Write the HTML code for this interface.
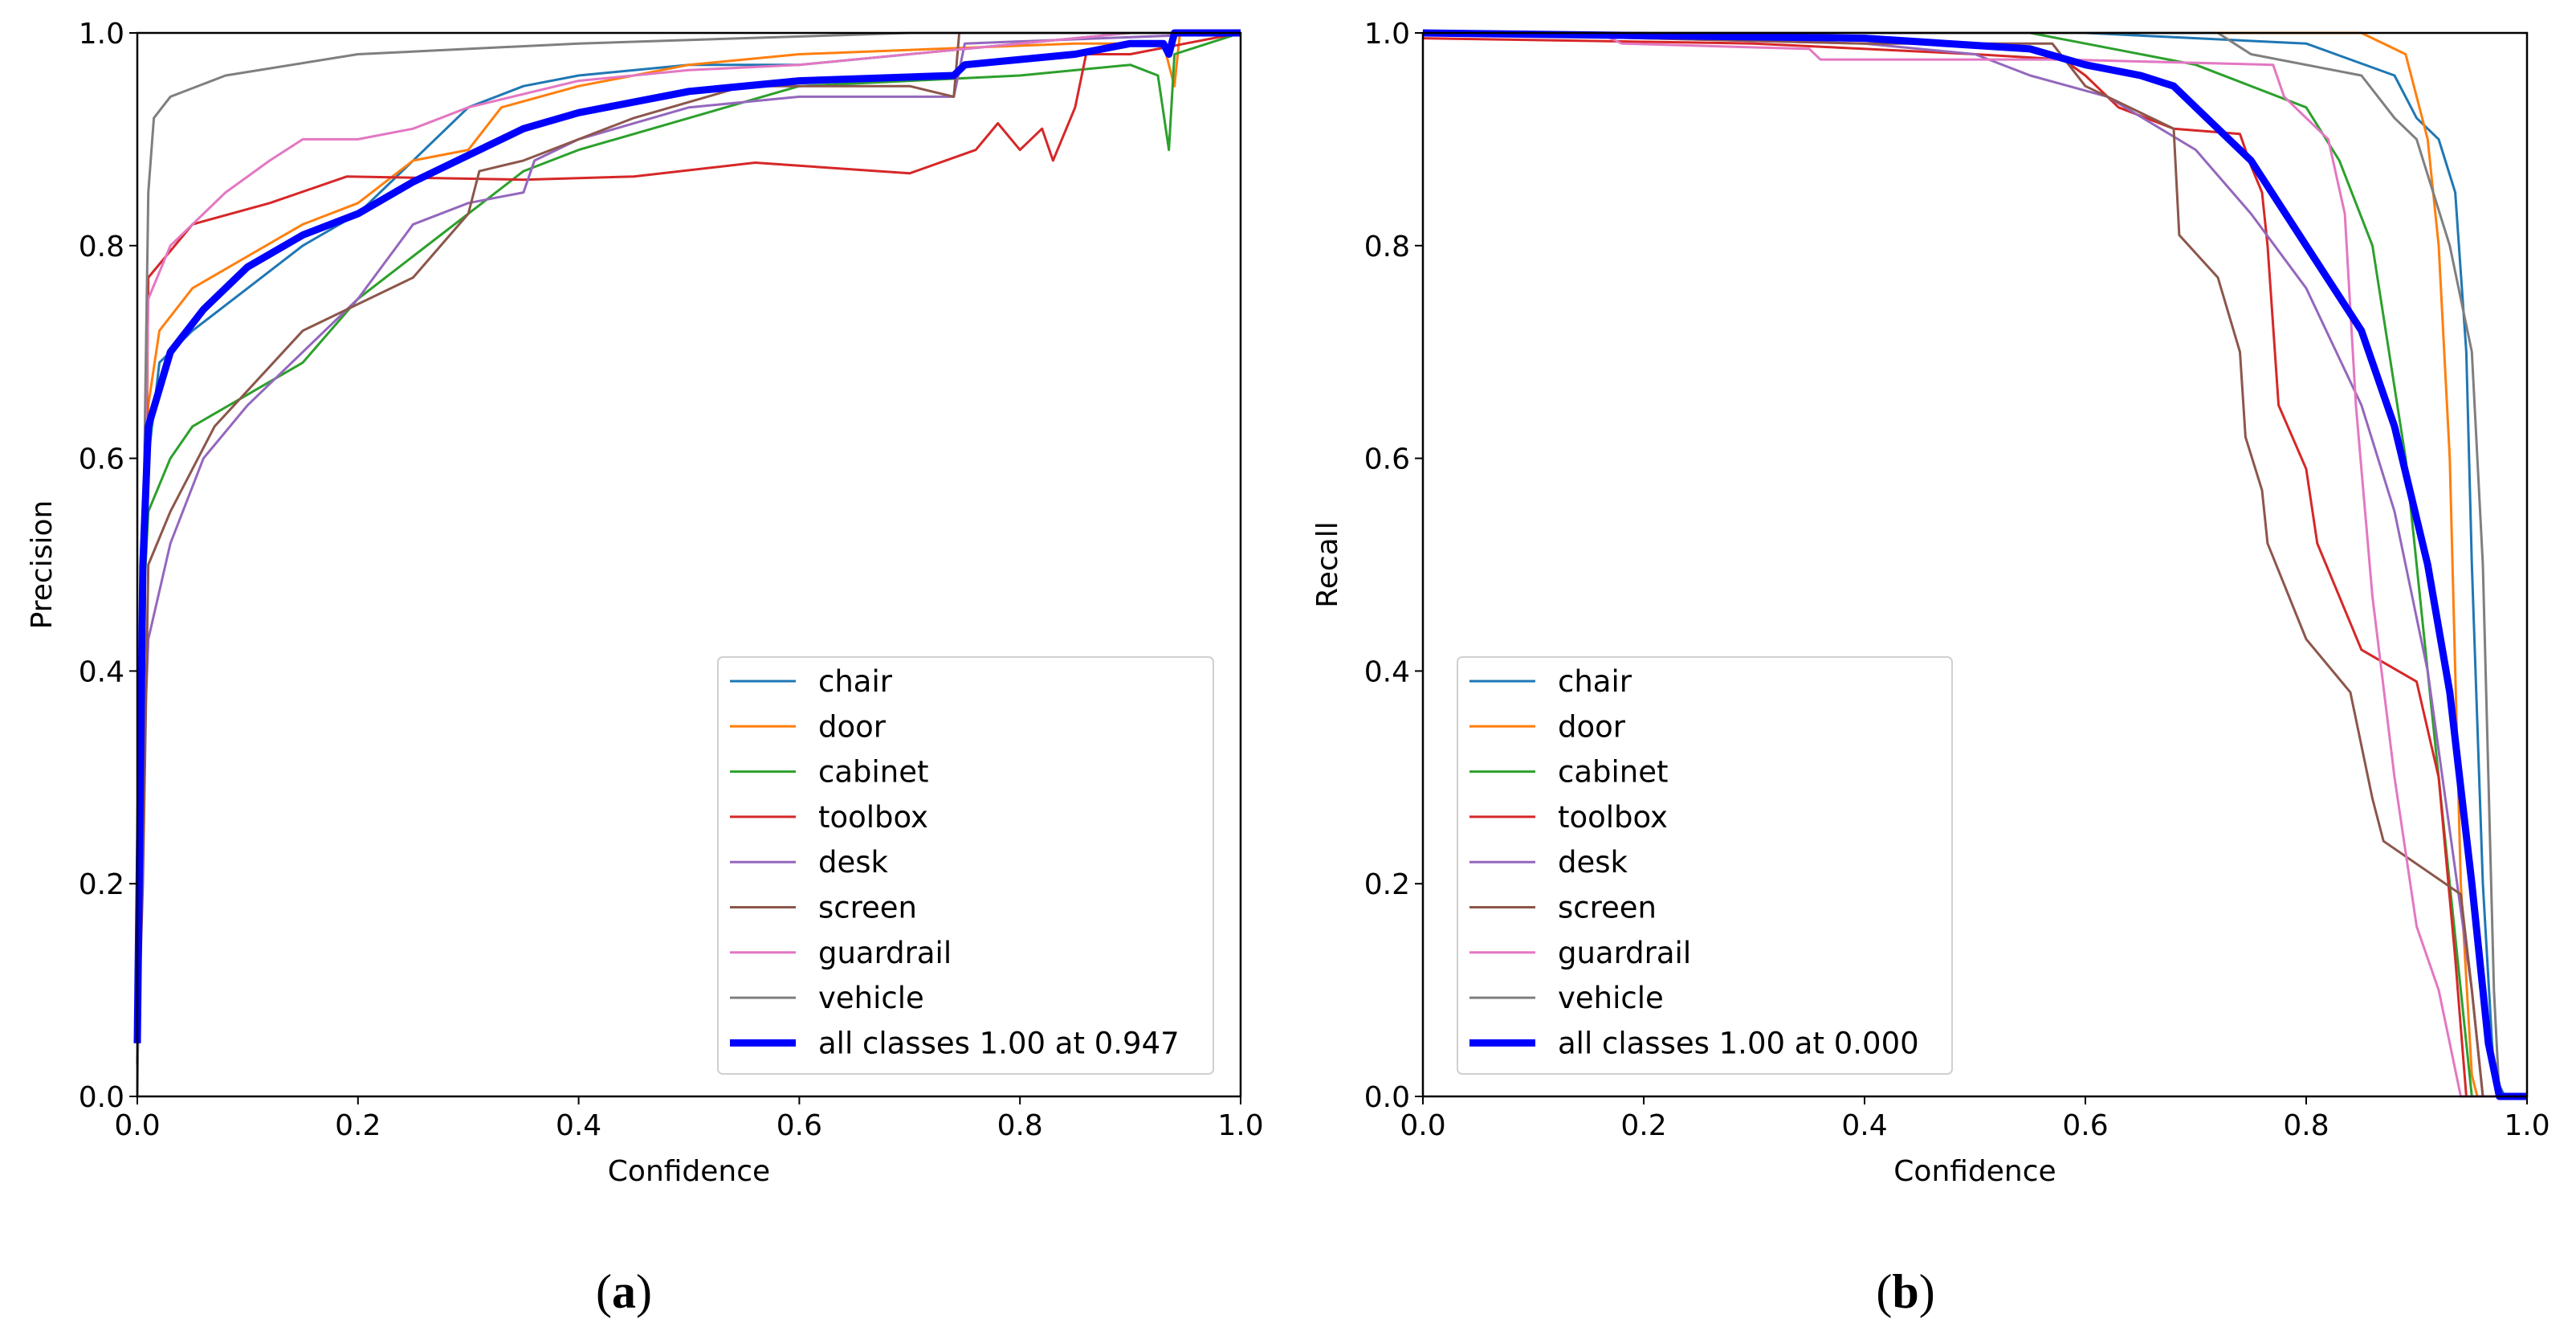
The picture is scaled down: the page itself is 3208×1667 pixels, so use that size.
<!DOCTYPE html>
<html><head><meta charset="utf-8">
<style>
html,body{margin:0;padding:0;background:#fff;}
svg{display:block;}
text{font-family:"DejaVu Sans","Liberation Sans",sans-serif;fill:#000;}
</style></head>
<body>
<svg id="fig" width="3208" height="1667" viewBox="0 0 3208 1667" xmlns="http://www.w3.org/2000/svg"></svg>
<script>
const classNames = ["chair","door","cabinet","toolbox","desk","screen","guardrail","vehicle"];
const classColors = ["#1f77b4","#ff7f0e","#2ca02c","#d62728","#9467bd","#8c564b","#e377c2","#7f7f7f"];
const ticks = [0,0.2,0.4,0.6,0.8,1.0];
const tickLabels = ["0.0","0.2","0.4","0.6","0.8","1.0"];

// Precision-confidence (a)
const pChairX = [0,0.005,0.01,0.02,0.05,0.1,0.15,0.2,0.25,0.3,0.35,0.4,0.5,0.6,0.7,0.8,0.9,1];
const pChairY = [0.1,0.45,0.6,0.69,0.72,0.76,0.8,0.83,0.88,0.93,0.95,0.96,0.97,0.97,0.98,0.99,1,1];
const pDoorX = [0,0.005,0.01,0.02,0.05,0.1,0.15,0.2,0.25,0.3,0.33,0.4,0.5,0.6,0.85,0.93,0.94,0.945,1];
const pDoorY = [0.2,0.5,0.65,0.72,0.76,0.79,0.82,0.84,0.88,0.89,0.93,0.95,0.97,0.98,0.99,0.99,0.95,1,1];
const pCabinetX = [0,0.005,0.01,0.03,0.05,0.1,0.15,0.2,0.25,0.3,0.35,0.4,0.5,0.6,0.8,0.9,0.925,0.935,0.94,1];
const pCabinetY = [0.1,0.45,0.55,0.6,0.63,0.66,0.69,0.75,0.79,0.83,0.87,0.89,0.92,0.95,0.96,0.97,0.96,0.89,0.98,1];
const pToolboxX = [0,0.005,0.01,0.05,0.12,0.19,0.35,0.45,0.56,0.7,0.76,0.78,0.8,0.82,0.83,0.85,0.86,0.9,0.95,1];
const pToolboxY = [0.1,0.3,0.77,0.82,0.84,0.865,0.862,0.865,0.878,0.868,0.89,0.915,0.89,0.91,0.88,0.93,0.98,0.98,0.99,1];
const pDeskX = [0,0.005,0.01,0.03,0.06,0.1,0.15,0.2,0.25,0.3,0.35,0.36,0.4,0.5,0.6,0.7,0.74,0.75,1];
const pDeskY = [0.03,0.3,0.43,0.52,0.6,0.65,0.7,0.75,0.82,0.84,0.85,0.88,0.9,0.93,0.94,0.94,0.94,0.99,1];
const pScreenX = [0,0.005,0.01,0.03,0.07,0.15,0.25,0.3,0.31,0.35,0.45,0.55,0.65,0.7,0.74,0.745,1];
const pScreenY = [0.03,0.2,0.5,0.55,0.63,0.72,0.77,0.83,0.87,0.88,0.92,0.95,0.95,0.95,0.94,1,1];
const pGuardX = [0,0.005,0.01,0.03,0.05,0.08,0.12,0.15,0.2,0.25,0.3,0.4,0.5,0.6,0.8,0.9,1];
const pGuardY = [0.2,0.5,0.75,0.8,0.82,0.85,0.88,0.9,0.9,0.91,0.93,0.955,0.965,0.97,0.99,1,1];
const pVehicleX = [0,0.005,0.01,0.015,0.03,0.08,0.2,0.4,0.7,1];
const pVehicleY = [0,0.5,0.85,0.92,0.94,0.96,0.98,0.99,1,1];
const pAllX = [0,0.005,0.01,0.03,0.06,0.1,0.15,0.2,0.25,0.3,0.35,0.4,0.5,0.6,0.74,0.75,0.85,0.9,0.93,0.935,0.94,1];
const pAllY = [0.05,0.5,0.63,0.7,0.74,0.78,0.81,0.83,0.86,0.885,0.91,0.925,0.945,0.955,0.96,0.97,0.98,0.99,0.99,0.98,1,1];

// Recall-confidence (b)
const rChairX = [0,0.6,0.8,0.88,0.9,0.92,0.935,0.945,0.95,0.96,0.97,0.98,1];
const rChairY = [1,1,0.99,0.96,0.92,0.9,0.85,0.7,0.5,0.2,0.02,0,0];
const rDoorX = [0,0.85,0.89,0.91,0.92,0.93,0.935,0.94,0.95,0.955,1];
const rDoorY = [1,1,0.98,0.9,0.8,0.6,0.4,0.2,0.02,0,0];
const rCabinetX = [0,0.55,0.7,0.8,0.83,0.86,0.89,0.92,0.94,0.95,1];
const rCabinetY = [1,1,0.97,0.93,0.88,0.8,0.6,0.3,0.1,0,0];
const rToolboxX = [0,0.3,0.5,0.58,0.6,0.63,0.68,0.74,0.75,0.76,0.765,0.775,0.8,0.81,0.83,0.85,0.9,0.92,0.935,0.945,1];
const rToolboxY = [0.995,0.99,0.98,0.975,0.96,0.93,0.91,0.905,0.875,0.85,0.8,0.65,0.59,0.52,0.47,0.42,0.39,0.3,0.13,0,0];
const rDeskX = [0,0.4,0.5,0.55,0.62,0.7,0.75,0.8,0.85,0.88,0.91,0.93,0.95,0.96,1];
const rDeskY = [1,0.99,0.98,0.96,0.94,0.89,0.83,0.76,0.65,0.55,0.4,0.25,0.1,0,0];
const rScreenX = [0,0.4,0.57,0.6,0.68,0.685,0.72,0.74,0.745,0.76,0.765,0.8,0.84,0.86,0.87,0.94,0.95,0.96,1];
const rScreenY = [1,0.99,0.99,0.95,0.91,0.81,0.77,0.7,0.62,0.57,0.52,0.43,0.38,0.28,0.24,0.19,0.1,0,0];
const rGuardX = [0,0.16,0.18,0.35,0.36,0.58,0.77,0.78,0.82,0.835,0.845,0.86,0.88,0.9,0.92,0.93,0.94,1];
const rGuardY = [1,1,0.99,0.985,0.975,0.975,0.97,0.94,0.9,0.83,0.65,0.47,0.3,0.16,0.1,0.05,0,0];
const rVehicleX = [0,0.5,0.72,0.75,0.85,0.88,0.9,0.93,0.95,0.96,0.965,0.97,0.975,1];
const rVehicleY = [1,1,1,0.98,0.96,0.92,0.9,0.8,0.7,0.5,0.3,0.1,0,0];
const rAllX = [0,0.4,0.55,0.6,0.65,0.68,0.7,0.75,0.8,0.85,0.88,0.91,0.93,0.95,0.965,0.975,1];
const rAllY = [1,0.995,0.985,0.97,0.96,0.95,0.93,0.88,0.8,0.72,0.63,0.5,0.38,0.2,0.05,0,0];

const NS = "http://www.w3.org/2000/svg";
const fig = document.getElementById('fig');
function mk(tag, attrs, parent){ const e=document.createElementNS(NS,tag); for(const k in attrs) e.setAttribute(k,attrs[k]); (parent||fig).appendChild(e); return e; }

function drawPanel(cfg){
  const g = mk('g',{});
  
  
  const L=cfg.left,R=cfg.right,T=41,B=1365;
  const sx = v => L + v*(R-L);
  const sy = v => B - v*(B-T);
  const sg = mk('g',{},g);
  cfg.series.forEach((s,i)=>{
    const d = s.x.map((xv,j)=>(j?'L':'M')+sx(xv).toFixed(1)+' '+sy(s.y[j]).toFixed(1)).join(' ');
    const p = mk('path',{d:d,fill:'none',stroke:classColors[i],'stroke-width':3,'stroke-linejoin':'round'},sg);
    
    
  });
  const da = cfg.allX.map((xv,j)=>(j?'L':'M')+sx(xv).toFixed(1)+' '+sy(cfg.allY[j]).toFixed(1)).join(' ');
  const pa = mk('path',{d:da,fill:'none',stroke:'#0000ff','stroke-width':9,'stroke-linejoin':'round'},sg);
  
  
  const fr = mk('rect',{x:L,y:T,width:R-L,height:B-T,fill:'none',stroke:'#000','stroke-width':2.5},g);
  
  
  ticks.forEach((t,i)=>{
    mk('line',{x1:sx(t),x2:sx(t),y1:B,y2:B+10,stroke:'#000','stroke-width':2},g);
    const tx = mk('text',{x:sx(t),y:B+48,'font-size':36,'text-anchor':'middle'},g);
    tx.textContent = tickLabels[i];
    
    
    mk('line',{x1:L-10,x2:L,y1:sy(t),y2:sy(t),stroke:'#000','stroke-width':2},g);
    const ty = mk('text',{x:L-16,y:sy(t)+13,'font-size':36,'text-anchor':'end'},g);
    ty.textContent = tickLabels[i];
    
    
  });
  const xt = mk('text',{x:(L+R)/2,y:1470,'font-size':36,'text-anchor':'middle'},g);
  xt.textContent = 'Confidence';
  
  
  const yt = mk('text',{x:0,y:0,'font-size':36,'text-anchor':'middle',transform:'translate('+cfg.ytX+',703) rotate(-90)'},g);
  yt.textContent = cfg.ytitle;
  
  
  const lg = mk('g',{},g);
  
  
  mk('rect',{x:cfg.legX,y:818,width:cfg.legW,height:519,rx:6,fill:'#fff','fill-opacity':0.8,stroke:'#d0d0d0','stroke-width':2},lg);
  const labels = classNames.concat([cfg.allLabel]);
  labels.forEach((lab,i)=>{
    const cy = 848 + i*56.3;
    const e = mk('g',{},lg);
    
    
    mk('line',{x1:cfg.legX+15,x2:cfg.legX+97,y1:cy,y2:cy,stroke:i<8?classColors[i]:'#0000ff','stroke-width':i<8?3:9},e);
    const t = mk('text',{x:cfg.legX+125,y:cy+13,'font-size':37},e);
    t.textContent = lab;
  });
  const cap = mk('text',{x:cfg.capX,y:1628,'font-size':60,'text-anchor':'middle'},g);
  cap.style.fontFamily = '"Liberation Serif", serif';
  cap.innerHTML = '(<tspan font-weight="bold">'+cfg.cap+'</tspan>)';
  
  
}

drawPanel({name:'precision-chart',left:171,right:1545,ytitle:'Precision',ytX:64,legX:894,legW:617,
  allLabel:'all classes 1.00 at 0.947',capX:777,cap:'a',allX:pAllX,allY:pAllY,
  series:[{x:pChairX,y:pChairY},{x:pDoorX,y:pDoorY},{x:pCabinetX,y:pCabinetY},{x:pToolboxX,y:pToolboxY},
          {x:pDeskX,y:pDeskY},{x:pScreenX,y:pScreenY},{x:pGuardX,y:pGuardY},{x:pVehicleX,y:pVehicleY}]});
drawPanel({name:'recall-chart',left:1772,right:3147,ytitle:'Recall',ytX:1665,legX:1815,legW:616,
  allLabel:'all classes 1.00 at 0.000',capX:2373,cap:'b',allX:rAllX,allY:rAllY,
  series:[{x:rChairX,y:rChairY},{x:rDoorX,y:rDoorY},{x:rCabinetX,y:rCabinetY},{x:rToolboxX,y:rToolboxY},
          {x:rDeskX,y:rDeskY},{x:rScreenX,y:rScreenY},{x:rGuardX,y:rGuardY},{x:rVehicleX,y:rVehicleY}]});
</script>
</body></html>
